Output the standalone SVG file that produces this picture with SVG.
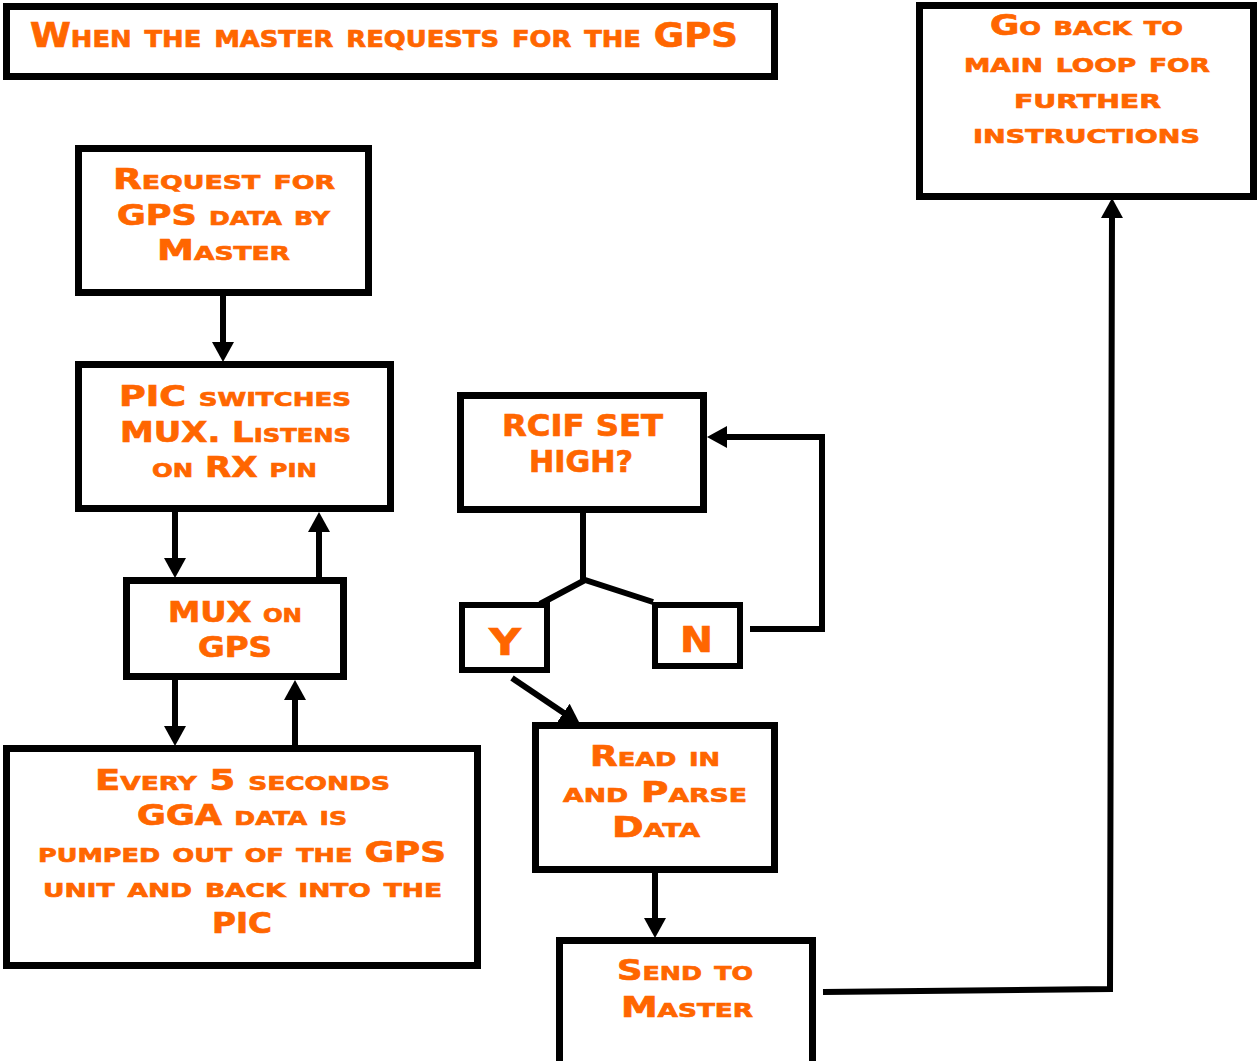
<svg xmlns="http://www.w3.org/2000/svg" width="1258" height="1061" viewBox="0 0 1258 1061">
<style>
.box{fill:#fff;stroke:#000;stroke-width:7}
.sm{fill:#fff;stroke:#000;stroke-width:6}
.t{font-family:"DejaVu Sans","Liberation Sans",sans-serif;font-weight:bold;font-variant:small-caps;fill:#FF6600;stroke:#FF6600;stroke-width:0.7;font-size:28px}
.c{fill:none;stroke:#000;stroke-width:6}
.ca{fill:none;stroke:#000;stroke-width:6;marker-end:url(#ah)}
</style>
<defs>
<marker id="ah" viewBox="0 0 20 22" refX="5" refY="11" markerWidth="20" markerHeight="22" markerUnits="userSpaceOnUse" orient="auto">
<path d="M0,0 L20,11 L0,22 z" fill="#000"/>
</marker>
</defs>
<rect width="1258" height="1061" fill="#fff"/>

<g id="connectors">
<line class="ca" x1="223" y1="296" x2="223" y2="347"/>
<line class="ca" x1="175" y1="512" x2="175" y2="563"/>
<line class="ca" x1="319" y1="578" x2="319" y2="527"/>
<line class="ca" x1="175" y1="680" x2="175" y2="731"/>
<line class="ca" x1="295" y1="746" x2="295" y2="695"/>
<polyline class="c" points="583,512 583,580"/>
<polyline class="c" points="540,604 585,580 653,602"/>
<polyline class="ca" stroke-width="5" points="750,629 822,629 822,437 722,437"/>
<line class="ca" x1="512" y1="678" x2="567.6" y2="715.6"/>
<line class="ca" x1="655" y1="872" x2="655" y2="923"/>
<polyline class="ca" points="823,992 1110,989 1112,213"/>
</g>

<g id="title">
<rect class="box" x="6.5" y="6.5" width="768" height="70"/>
<text class="t" style="font-size:33px" x="30" y="47" textLength="708" lengthAdjust="spacingAndGlyphs">When the master requests for the GPS</text>
</g>

<g id="request">
<rect class="box" x="78.5" y="148.5" width="290" height="144"/>
<text class="t" x="113" y="189" textLength="222" lengthAdjust="spacingAndGlyphs">Request for</text>
<text class="t" x="117" y="225" textLength="213" lengthAdjust="spacingAndGlyphs">GPS data by</text>
<text class="t" x="157" y="260" textLength="133" lengthAdjust="spacingAndGlyphs">Master</text>
</g>

<g id="pic">
<rect class="box" x="78.5" y="364.5" width="312" height="144"/>
<text class="t" x="119" y="406" textLength="232" lengthAdjust="spacingAndGlyphs">PIC switches</text>
<text class="t" x="120" y="442" textLength="231" lengthAdjust="spacingAndGlyphs">MUX. Listens</text>
<text class="t" x="152" y="477" textLength="165" lengthAdjust="spacingAndGlyphs">on RX pin</text>
</g>

<g id="mux">
<rect class="box" x="126.5" y="580.5" width="217" height="96"/>
<text class="t" x="168" y="622" textLength="134" lengthAdjust="spacingAndGlyphs">MUX on</text>
<text class="t" x="198" y="657" textLength="74" lengthAdjust="spacingAndGlyphs">GPS</text>
</g>

<g id="every">
<rect class="box" x="6.5" y="748.5" width="471" height="217"/>
<text class="t" x="95" y="790" textLength="295" lengthAdjust="spacingAndGlyphs">Every 5 seconds</text>
<text class="t" x="137" y="825" textLength="210" lengthAdjust="spacingAndGlyphs">GGA data is</text>
<text class="t" x="38" y="862" textLength="408" lengthAdjust="spacingAndGlyphs">pumped out of the GPS</text>
<text class="t" x="43" y="897" textLength="399" lengthAdjust="spacingAndGlyphs">unit and back into the</text>
<text class="t" x="212" y="933" textLength="60" lengthAdjust="spacingAndGlyphs">PIC</text>
</g>

<g id="rcif">
<rect class="box" x="460.5" y="395.5" width="243" height="114"/>
<text class="t" style="font-size:30px" x="502" y="436" textLength="161" lengthAdjust="spacingAndGlyphs">RCIF SET</text>
<text class="t" style="font-size:30px" x="529" y="472" textLength="104" lengthAdjust="spacingAndGlyphs">HIGH?</text>
</g>

<g id="yes">
<rect class="sm" x="462" y="605" width="85" height="65"/>
<text class="t" style="font-size:38px" x="489" y="655" textLength="32" lengthAdjust="spacingAndGlyphs">Y</text>
</g>

<g id="no">
<rect class="sm" x="655" y="605" width="85" height="61"/>
<text class="t" style="font-size:36px" x="680" y="652" textLength="33" lengthAdjust="spacingAndGlyphs">N</text>
</g>

<g id="read">
<rect class="box" x="535.5" y="725.5" width="239" height="144"/>
<text class="t" x="590" y="766" textLength="130" lengthAdjust="spacingAndGlyphs">Read in</text>
<text class="t" x="563" y="802" textLength="184" lengthAdjust="spacingAndGlyphs">and Parse</text>
<text class="t" x="612" y="837" textLength="88" lengthAdjust="spacingAndGlyphs">Data</text>
</g>

<g id="send">
<rect class="box" x="559.5" y="940.5" width="253" height="130"/>
<text class="t" x="617" y="980" textLength="136" lengthAdjust="spacingAndGlyphs">Send to</text>
<text class="t" x="621" y="1017" textLength="132" lengthAdjust="spacingAndGlyphs">Master</text>
</g>

<g id="goback">
<rect class="box" x="919.5" y="5.5" width="334" height="191"/>
<text class="t" x="990" y="35" textLength="193" lengthAdjust="spacingAndGlyphs">Go back to</text>
<text class="t" x="964" y="72" textLength="246" lengthAdjust="spacingAndGlyphs">main loop for</text>
<text class="t" x="1014" y="108" textLength="147" lengthAdjust="spacingAndGlyphs">further</text>
<text class="t" x="973" y="143" textLength="227" lengthAdjust="spacingAndGlyphs">instructions</text>
</g>
</svg>
